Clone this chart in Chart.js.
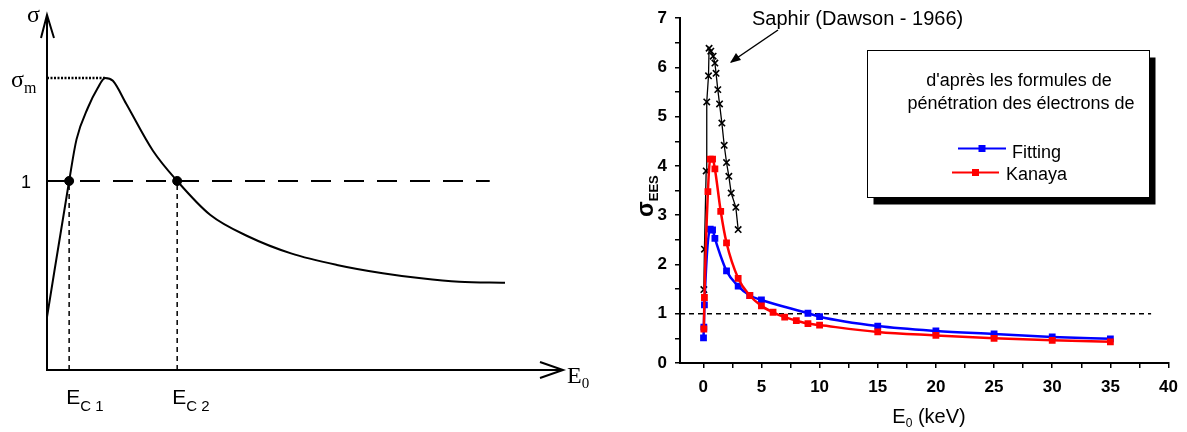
<!DOCTYPE html>
<html>
<head>
<meta charset="utf-8">
<script src="https://cdn.jsdelivr.net/npm/chart.js@4.4.1/dist/chart.umd.min.js"></script>
<style>
  html, body { margin: 0; padding: 0; background: #fff; }
  #wrap { position: relative; width: 1187px; height: 432px; overflow: hidden; }
  #left { position: absolute; left: 0; top: 0; }
  #right { position: absolute; left: 600px; top: 0; }
</style>
</head>
<body>
<div id="wrap">
  <canvas id="left" width="600" height="432"></canvas>
  <canvas id="right" width="587" height="432"></canvas>
</div>
<script>
// ---- left panel: schematic sigma(E0) curve (arbitrary units, sigma=1 is the unity line)
const curveE = [0, 4.2, 5.6, 7.8, 9.6, 11.0, 12.5, 15.0, 20.1, 24.7, 31.0, 38.3, 46.3, 55.0, 63.7, 71.0, 78.2, 86.9];
const curveSigma = [0.28, 1.0, 1.22, 1.39, 1.49, 1.545, 1.53, 1.41, 1.16, 1.0, 0.82, 0.705, 0.617, 0.556, 0.512, 0.485, 0.467, 0.462];
const crossE = [4.2, 24.7];      // EC1, EC2
const sigmaMax = 1.545;
const sigmaMaxE = 11.0;
const unityEnd = 84;

// ---- right panel: measured / computed sigma_EES vs E0 (keV)
const saphirE = [0.05, 0.1, 0.25, 0.3, 0.45, 0.5, 0.65, 0.85, 1.0, 1.1, 1.25, 1.4, 1.6, 1.8, 2.0, 2.2, 2.4, 2.8, 3.0];
const saphirS = [1.49, 2.31, 3.9, 5.3, 5.83, 6.39, 6.33, 6.23, 6.09, 5.88, 5.55, 5.26, 4.87, 4.42, 4.07, 3.79, 3.45, 3.16, 2.71];
const fitE = [0.02, 0.05, 0.1, 0.6, 0.8, 1.0, 2, 3, 4, 5, 9, 10, 15, 20, 25, 30, 35];
const fitS = [0.51, 0.73, 1.18, 2.72, 2.7, 2.53, 1.87, 1.56, 1.37, 1.28, 1.01, 0.94, 0.75, 0.65, 0.59, 0.53, 0.49];
const kanE = [0.05, 0.1, 0.4, 0.6, 0.8, 1.0, 1.5, 2, 3, 4, 5, 6, 7, 8, 9, 10, 15, 20, 25, 30, 35];
const kanS = [0.69, 1.33, 3.48, 4.14, 4.14, 3.94, 3.08, 2.44, 1.72, 1.37, 1.16, 1.03, 0.93, 0.86, 0.8, 0.77, 0.63, 0.56, 0.5, 0.46, 0.43];
const unityE = [-2, 38.5];
const xTicks = [0, 2.5, 5, 7.5, 10, 12.5, 15, 17.5, 20, 22.5, 25, 27.5, 30, 32.5, 35, 37.5, 40];
const yTicks = [0, 0.5, 1, 1.5, 2, 2.5, 3, 3.5, 4, 4.5, 5, 5.5, 6, 6.5, 7];

const pts = (xs, ys) => xs.map((v, i) => ({ x: v, y: ys[i] }));

function drawSub(ctx, x, y, main, sub, mainFont, subFont, dy) {
    ctx.font = mainFont;
    ctx.fillText(main, x, y);
    const w = ctx.measureText(main).width;
    ctx.font = subFont;
    ctx.fillText(sub, x + w, y + dy);
    return w + ctx.measureText(sub).width;
}

const leftDecor = {
    id: 'leftDecor',
    afterDraw(chart) {
        const { ctx, chartArea: a, scales: { x, y } } = chart;
        const x0 = x.getPixelForValue(0), y0 = y.getPixelForValue(0);
        ctx.save();
        ctx.strokeStyle = '#000';
        ctx.fillStyle = '#000';
        ctx.lineWidth = 2;
        ctx.beginPath();
        ctx.moveTo(x0, a.top);
        ctx.lineTo(x0, y0);
        ctx.lineTo(a.right, y0);
        ctx.moveTo(x0 - 6, a.top + 23);
        ctx.lineTo(x0, a.top);
        ctx.lineTo(x0 + 7, a.top + 23);
        ctx.moveTo(a.right - 23, y0 - 8);
        ctx.lineTo(a.right, y0);
        ctx.lineTo(a.right - 23, y0 + 8);
        ctx.stroke();

        ctx.textBaseline = 'alphabetic';
        ctx.textAlign = 'left';
        const serif = '"Liberation Serif", "DejaVu Serif", serif';
        const sans = '"Liberation Sans", Arial, sans-serif';
        ctx.font = '24px ' + serif;
        ctx.fillText('σ', x0 - 20, a.top + 7);
        drawSub(ctx, x0 - 36, y.getPixelForValue(sigmaMax) + 9, 'σ', 'm', '24px ' + serif, '16px ' + serif, 6);
        ctx.font = '18px ' + sans;
        ctx.textAlign = 'right';
        ctx.fillText('1', x0 - 16, y.getPixelForValue(1) + 7);
        ctx.textAlign = 'left';
        drawSub(ctx, x.getPixelForValue(crossE[0]) - 3, y0 + 34, 'E', 'C 1', '21px ' + sans, '15px ' + sans, 7);
        drawSub(ctx, x.getPixelForValue(crossE[1]) - 5, y0 + 34, 'E', 'C 2', '21px ' + sans, '15px ' + sans, 7);
        drawSub(ctx, a.right + 4, y0 + 13, 'E', '0', '24px ' + serif, '15px ' + serif, 5);
        ctx.restore();
    }
};

new Chart(document.getElementById('left'), {
    type: 'line',
    data: {
        datasets: [
            { data: pts(curveE, curveSigma), borderColor: '#000', borderWidth: 2, pointRadius: 0, cubicInterpolationMode: 'monotone' },
            { data: pts([0, unityEnd], [1, 1]), borderColor: '#000', borderWidth: 2, borderDash: [20, 13], pointRadius: 0 },
            { data: pts([crossE[0], crossE[0]], [0, 1]), borderColor: '#000', borderWidth: 1.5, borderDash: [5, 4], pointRadius: 0 },
            { data: pts([crossE[1], crossE[1]], [0, 1]), borderColor: '#000', borderWidth: 1.5, borderDash: [5, 4], pointRadius: 0 },
            { data: pts([0, sigmaMaxE], [sigmaMax, sigmaMax]), borderColor: '#000', borderWidth: 2.5, borderDash: [2, 1.5], pointRadius: 0 },
            { data: pts(crossE, [1, 1]), showLine: false, pointRadius: 4.5, pointBackgroundColor: '#000', pointBorderColor: '#000' }
        ]
    },
    options: {
        responsive: false,
        animation: false,
        events: [],
        clip: false,
        layout: { padding: { left: 47, right: 37, top: 15, bottom: 62 } },
        plugins: { legend: { display: false }, tooltip: { enabled: false } },
        scales: {
            x: { type: 'linear', min: 0, max: 97.9, display: false },
            y: { type: 'linear', min: 0, max: 1.878, display: false }
        }
    },
    plugins: [leftDecor]
});

const rightDecor = {
    id: 'rightDecor',
    afterDraw(chart) {
        const { ctx } = chart;
        const sans = '"Liberation Sans", Arial, sans-serif';
        const ox = 600; // canvas offset on the page
        ctx.save();
        ctx.fillStyle = '#000';
        ctx.strokeStyle = '#000';
        ctx.textBaseline = 'alphabetic';

        // annotation
        ctx.font = '20px ' + sans;
        ctx.textAlign = 'left';
        ctx.fillText('Saphir (Dawson - 1966)', 752 - ox, 25);
        ctx.lineWidth = 1.5;
        ctx.beginPath();
        ctx.moveTo(778 - ox, 30);
        ctx.lineTo(731 - ox, 62);
        ctx.stroke();
        ctx.beginPath();
        ctx.moveTo(730 - ox, 63);
        ctx.lineTo(736 - ox, 53);
        ctx.lineTo(741 - ox, 60);
        ctx.closePath();
        ctx.fill();

        // legend box with shadow
        const bx = 867.5 - ox, by = 50.5, bw = 282, bh = 147;
        ctx.fillRect(bx + 6, by + 7, bw, bh);
        ctx.fillStyle = '#fff';
        ctx.fillRect(bx, by, bw, bh);
        ctx.lineWidth = 1;
        ctx.strokeRect(bx, by, bw, bh);
        ctx.fillStyle = '#000';
        ctx.font = '18px ' + sans;
        ctx.textAlign = 'center';
        ctx.fillText("d'après les formules de", 1019 - ox, 86);
        ctx.fillText('pénétration des électrons de', 1021 - ox, 109);
        const items = [
            { ds: chart.data.datasets[0], x1: 958, x2: 1006, yy: 148.5, tx: 1012, ty: 158 },
            { ds: chart.data.datasets[1], x1: 952, x2: 999, yy: 172.5, tx: 1006, ty: 180 }
        ];
        items.forEach(it => {
            ctx.strokeStyle = it.ds.borderColor;
            ctx.lineWidth = 2;
            ctx.beginPath();
            ctx.moveTo(it.x1 - ox, it.yy);
            ctx.lineTo(it.x2 - ox, it.yy);
            ctx.stroke();
            ctx.fillStyle = it.ds.borderColor;
            const mx = (it.x1 + it.x2) / 2 - ox;
            ctx.fillRect(mx - 3.5, it.yy - 3.5, 7, 7);
            ctx.fillStyle = '#000';
            ctx.textAlign = 'left';
            ctx.fillText(it.ds.label, it.tx - ox, it.ty);
        });

        // axis titles
        ctx.textAlign = 'left';
        const tw = (() => {
            ctx.font = '20px ' + sans; const a = ctx.measureText('E').width + ctx.measureText(' (keV)').width;
            ctx.font = '12px ' + sans; return a + ctx.measureText('0').width;
        })();
        let tx = 929 - ox - tw / 2;
        tx += drawSub(ctx, tx, 423, 'E', '0', '20px ' + sans, '12px ' + sans, 4);
        ctx.font = '20px ' + sans;
        ctx.fillText(' (keV)', tx, 423);

        ctx.translate(653 - ox, 217);
        ctx.rotate(-Math.PI / 2);
        drawSub(ctx, 0, 0, 'σ', 'EES', 'bold 23px ' + sans, 'bold 13px ' + sans, 5);
        ctx.restore();
    }
};

new Chart(document.getElementById('right'), {
    type: 'line',
    data: {
        datasets: [
            { label: 'Fitting', data: pts(fitE, fitS), order: 1, borderColor: '#0000ff', backgroundColor: '#0000ff', borderWidth: 2.5,
              pointStyle: 'rect', pointRadius: 4.8, pointBorderWidth: 0, cubicInterpolationMode: 'monotone' },
            { label: 'Kanaya', data: pts(kanE, kanS), order: 0, borderColor: '#ff0000', backgroundColor: '#ff0000', borderWidth: 2.5,
              pointStyle: 'rect', pointRadius: 4.8, pointBorderWidth: 0, cubicInterpolationMode: 'monotone' },
            { label: 'Saphir', data: pts(saphirE, saphirS), order: 2, borderColor: '#000', backgroundColor: '#000', borderWidth: 1.3,
              pointStyle: 'crossRot', pointRadius: 4.5, pointBorderWidth: 1.6, tension: 0 },
            { label: 'unity', data: pts(unityE, [1, 1]), order: 3, borderColor: '#000', borderWidth: 1.5, borderDash: [5, 4], pointRadius: 0 }
        ]
    },
    options: {
        responsive: false,
        animation: false,
        events: [],
        layout: { padding: { left: 0, right: 17, top: 13, bottom: 0 } },
        plugins: { legend: { display: false }, tooltip: { enabled: false } },
        scales: {
            x: {
                type: 'linear', min: -2, max: 40,
                afterBuildTicks: s => { s.ticks = xTicks.map(v => ({ value: v })); },
                afterFit: s => { s.height = 69; },
                grid: { drawOnChartArea: false, drawTicks: true, tickLength: 5, color: '#000', lineWidth: 1.5 },
                border: { display: true, color: '#000', width: 2 },
                ticks: { autoSkip: false, maxRotation: 0, padding: 9, color: '#000',
                         font: { family: '"Liberation Sans", Arial, sans-serif', size: 17, weight: 'bold' },
                         callback: v => (v % 5 === 0 ? v : '') }
            },
            y: {
                type: 'linear', min: 0, max: 7,
                afterBuildTicks: s => { s.ticks = yTicks.map(v => ({ value: v })); },
                afterFit: s => { s.width = 80; },
                grid: { drawOnChartArea: false, drawTicks: true, tickLength: 5, color: '#000', lineWidth: 1.5 },
                border: { display: true, color: '#000', width: 2 },
                ticks: { autoSkip: false, padding: 8, color: '#000',
                         font: { family: '"Liberation Sans", Arial, sans-serif', size: 17, weight: 'bold' },
                         callback: v => (v % 1 === 0 ? v : '') }
            }
        }
    },
    plugins: [rightDecor]
});
</script>
</body>
</html>
